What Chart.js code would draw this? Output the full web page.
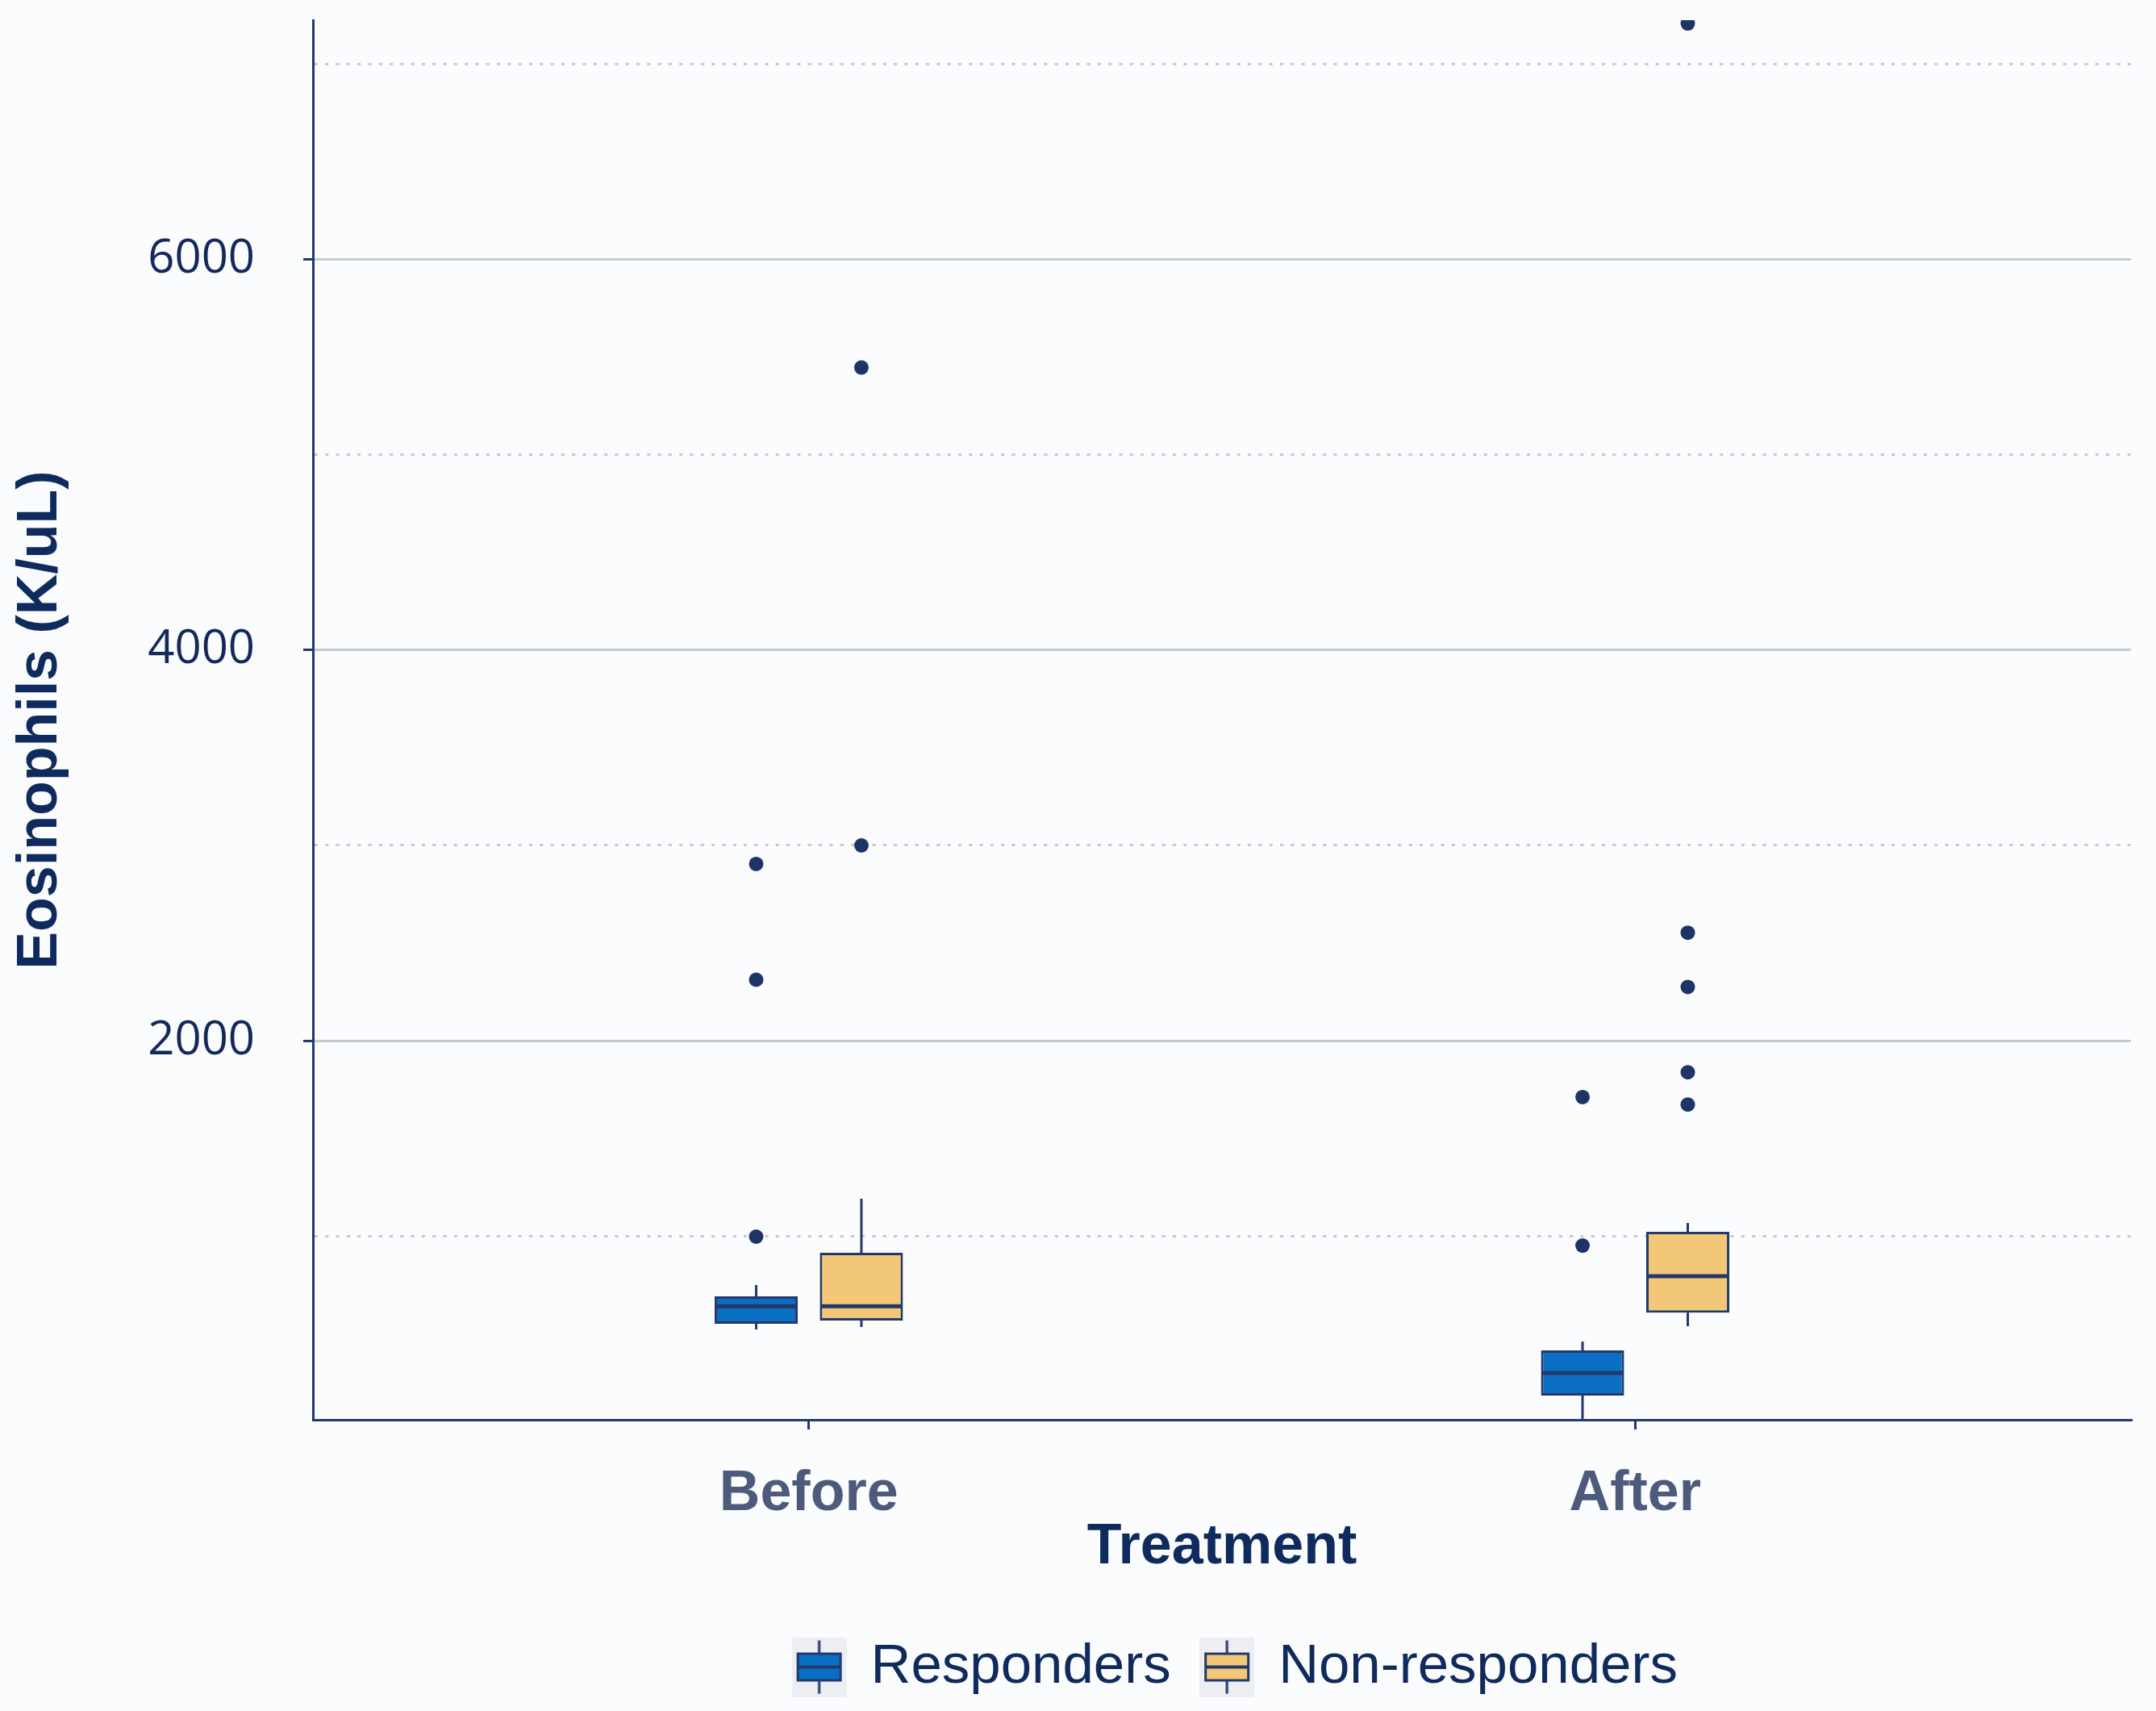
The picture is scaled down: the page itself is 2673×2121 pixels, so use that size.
<!DOCTYPE html>
<html>
<head>
<meta charset="utf-8">
<script src="https://cdn.jsdelivr.net/npm/chart.js@4.4.1/dist/chart.umd.min.js"></script>
<style>
  html, body { margin: 0; padding: 0; background: #fafcfd; }
  #wrap { width: 2673px; height: 2121px; position: relative; }
</style>
</head>
<body>
<div id="wrap"><canvas id="c"></canvas></div>
<script>
// ---------- data ----------
const categories = ['Before', 'After'];
const seriesNames = ['Responders', 'Non-responders'];

const respLower   = [521, 58];
const respQ1      = [550, 182];
const respMedian  = [640, 298];
const respQ3      = [690, 413];
const respUpper   = [748, 459];
const respOutliers = [[996, 2312, 2905], [950, 1711]];

const nonLower    = [533, 537];
const nonQ1       = [566, 607];
const nonMedian   = [640, 793];
const nonQ3       = [913, 1021];
const nonUpper    = [1190, 1066];
const nonOutliers = [[3000, 5448], [1673, 1838, 2275, 2553, 7210]];

const yTickValues = [1000, 2000, 3000, 4000, 5000, 6000, 7000];
const yTickLabels = ['', '2000', '', '4000', '', '6000', ''];
const yMajorTicks = [2000, 4000, 6000];
const yMin = 58, yMax = 7227;

// ---------- styles ----------
const NAVY = '#23386b';
const DOT = '#1f3466';
const BLUE = '#0a6fc2';
const GOLD = '#f2c777';
const GRID = '#c6cad3';
const CAT_PCT = 0.2547;
const BAR_PCT = 0.79;
const X_AXIS_HEIGHT = 232;

function makeIcon(fill) {
  const c = document.createElement('canvas');
  c.width = 68; c.height = 74;
  const g = c.getContext('2d');
  g.fillStyle = '#eceef2';
  g.fillRect(0, 0, 68, 74);
  g.strokeStyle = NAVY;
  g.lineWidth = 3;
  g.beginPath(); g.moveTo(34, 4); g.lineTo(34, 70); g.stroke();
  g.fillStyle = fill;
  g.fillRect(6, 19, 56, 36);
  g.strokeRect(7.5, 20.5, 53, 33);
  g.lineWidth = 4;
  g.beginPath(); g.moveTo(7, 37); g.lineTo(61, 37); g.stroke();
  return c;
}
const icons = [makeIcon(BLUE), makeIcon(GOLD)];

const stats = [
  { lower: respLower, q1: respQ1, median: respMedian, q3: respQ3, upper: respUpper, outliers: respOutliers, color: BLUE },
  { lower: nonLower,  q1: nonQ1,  median: nonMedian,  q3: nonQ3,  upper: nonUpper,  outliers: nonOutliers,  color: GOLD }
];

const boxDatasets = stats.map((s, k) => ({
  type: 'bar',
  label: seriesNames[k],
  data: categories.map((c, i) => ({ x: i, y: [s.q1[i], s.q3[i]] })),
  backgroundColor: s.color,
  borderColor: NAVY,
  borderWidth: 3,
  borderSkipped: false,
  categoryPercentage: CAT_PCT,
  barPercentage: BAR_PCT,
  order: 2
}));

const outlierDatasets = stats.map((s, k) => ({
  type: 'scatter',
  label: seriesNames[k] + ' outliers',
  data: s.outliers.flatMap((arr, i) => arr.map(v => ({ x: i + (k - 0.5) * CAT_PCT / 2, y: v }))),
  backgroundColor: DOT,
  borderWidth: 0,
  pointRadius: 9,
  order: 1
}));

const whiskerPlugin = {
  id: 'boxWhiskers',
  afterDatasetsDraw(chart) {
    const y = chart.scales.y;
    const ctx = chart.ctx;
    stats.forEach((s, d) => {
      const meta = chart.getDatasetMeta(d);
      meta.data.forEach((bar, i) => {
        const { x, width } = bar.getProps(['x', 'width'], true);
        ctx.save();
        ctx.strokeStyle = NAVY;
        ctx.lineWidth = 3;
        ctx.beginPath();
        ctx.moveTo(x, y.getPixelForValue(s.q3[i]));
        ctx.lineTo(x, y.getPixelForValue(s.upper[i]));
        ctx.moveTo(x, y.getPixelForValue(s.q1[i]));
        ctx.lineTo(x, y.getPixelForValue(s.lower[i]));
        ctx.stroke();
        ctx.lineWidth = 5;
        const ym = y.getPixelForValue(s.median[i]);
        ctx.beginPath();
        ctx.moveTo(x - width / 2 + 1.5, ym);
        ctx.lineTo(x + width / 2 - 1.5, ym);
        ctx.stroke();
        ctx.restore();
      });
    });
  }
};

const legendShift = {
  id: 'legendShift',
  afterLayout(chart) {
    const lg = chart.legend;
    const ca = chart.chartArea;
    const c = (ca.left + ca.right) / 2 + 18;
    const half = (lg.right - lg.left) / 2;
    lg.left = c - half;
    lg.right = c + half;
  }
};

const isMajor = (c) => c.tick && yMajorTicks.includes(c.tick.value);

new Chart(document.getElementById('c'), {
  type: 'bar',
  data: { datasets: [...boxDatasets, ...outlierDatasets] },
  plugins: [whiskerPlugin, legendShift],
  options: {
    responsive: true,
    maintainAspectRatio: false,
    animation: false,
    layout: { padding: { top: 25, right: 31, left: 0, bottom: 10 } },
    plugins: {
      tooltip: { enabled: false },
      legend: {
        position: 'bottom',
        labels: {
          usePointStyle: true,
          pointStyleWidth: 59,
          padding: 40,
          color: '#102a5c',
          font: { family: 'Liberation Sans', size: 69 },
          filter: (item) => item.datasetIndex < 2,
          generateLabels: (chart) => {
            const items = Chart.defaults.plugins.legend.labels.generateLabels(chart);
            items.forEach(it => { if (it.datasetIndex < 2) it.pointStyle = icons[it.datasetIndex]; });
            return items;
          }
        }
      }
    },
    scales: {
      x: {
        type: 'linear',
        min: -0.6,
        max: 1.6,
        offset: false,
        afterBuildTicks: (s) => { s.ticks = categories.map((c, i) => ({ value: i })); },
        afterFit: (s) => { s.height = X_AXIS_HEIGHT; s.paddingLeft = 0; s.paddingRight = 0; },
        ticks: {
          autoSkip: false,
          maxRotation: 0,
          padding: 39,
          color: '#4d5a7c',
          font: { family: 'Liberation Sans', size: 70, weight: 'bold' },
          callback: (v, i) => categories[i]
        },
        grid: { offset: false, drawOnChartArea: false, tickLength: 12, tickWidth: 3, tickColor: NAVY, color: NAVY, lineWidth: 3 },
        border: { color: NAVY, width: 3 },
        title: {
          display: true,
          text: 'Treatment',
          color: '#0f2a5c',
          font: { family: 'Liberation Sans', size: 70, weight: 'bold' },
          padding: { top: 0, bottom: 31 }
        }
      },
      y: {
        type: 'linear',
        min: yMin,
        max: yMax,
        afterBuildTicks: (s) => { s.ticks = yTickValues.map(v => ({ value: v })); },
        afterFit: (s) => { s.width = 388; s.paddingTop = 0; s.paddingBottom = 0; },
        ticks: {
          autoSkip: false,
          padding: 60,
          color: '#14285a',
          font: { family: 'Open Sans', size: 58 },
          callback: (v, i) => yTickLabels[i]
        },
        grid: {
          color: GRID,
          lineWidth: 3,
          tickLength: 12,
          tickWidth: 3,
          tickColor: (c) => isMajor(c) ? NAVY : 'rgba(0,0,0,0)'
        },
        border: {
          color: NAVY,
          width: 3,
          dash: (c) => (c.tick && !yMajorTicks.includes(c.tick.value)) ? [4, 9.3] : []
        },
        title: {
          display: true,
          text: 'Eosinophils (K/uL)',
          color: '#0f2a5c',
          font: { family: 'Liberation Sans', size: 70, weight: 'bold' },
          padding: { top: 9, bottom: 0 }
        }
      }
    }
  }
});
</script>
</body>
</html>
